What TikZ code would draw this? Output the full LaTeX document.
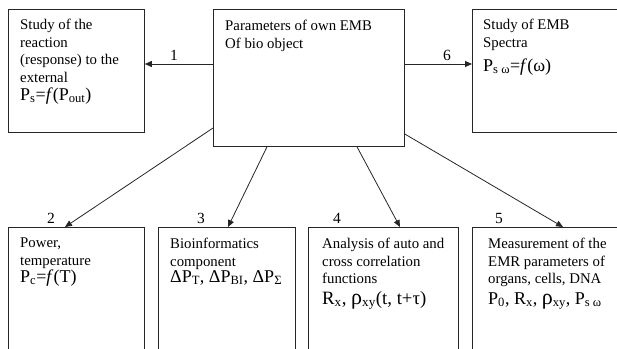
\documentclass[tikz,border=0pt]{standalone}
\usepackage{fontspec}
\setmainfont{Liberation Serif}
\usetikzlibrary{arrows.meta}
\newcommand\txtfont{\fontsize{14.8}{17.6}\selectfont}
\newcommand\numfont{\fontsize{15.5}{17}\selectfont}
\newcommand\frmfont{\fontsize{18}{20}\selectfont}
\newcommand\bigrho{{\fontsize{22}{22}\selectfont ρ}}
\tikzset{
  box/.style={draw=black!85, line width=0.8pt, rectangle, anchor=north west, inner sep=0pt},
  txt/.style={anchor=north west, inner sep=0pt, align=left, font=\txtfont},
  frm/.style={anchor=base west, inner sep=0pt, font=\frmfont},
  num/.style={inner sep=0pt, font=\numfont},
  arr/.style={draw=black!85, line width=0.8pt, -{Triangle[length=7pt,width=6pt]}}
}
\begin{document}
\begin{tikzpicture}[x=1pt,y=-1pt]
\useasboundingbox (0,0) rectangle (617,348);
\clip (0,0) rectangle (617,348);
% boxes
\node[box, minimum width=136pt, minimum height=123pt] (b1) at (8,9) {};
\node[box, minimum width=191pt, minimum height=137pt] (c) at (213,9) {};
\node[box, minimum width=170pt, minimum height=123pt] (b6) at (472,9) {};
\node[box, minimum width=136pt, minimum height=150pt] (d2) at (8,227) {};
\node[box, minimum width=137pt, minimum height=150pt] (d3) at (158,227) {};
\node[box, minimum width=150pt, minimum height=150pt] (d4) at (308,227) {};
\node[box, minimum width=170pt, minimum height=150pt] (d5) at (472,227) {};
% texts
\node[txt] (t1) at (20,19) {Study of the\\reaction\\(response) to the\\external};
\node[frm] (f1) at (20,100) {P\textsubscript{s}=\textit{f}(P\textsubscript{out})};
\node[txt] (tc) at (225,20) {Parameters of own EMB\\Of bio object};
\node[txt] (t6) at (483,19) {Study of EMB\\Spectra};
\node[frm] (f6) at (483,71) {P\textsubscript{s ω}=\textit{f}(ω)};
\node[txt] (t2) at (20,238) {Power,\\temperature};
\node[frm] (f2) at (20,282) {P\textsubscript{c}=\textit{f}(T)};
\node[txt] (t3) at (170,238) {Bioinformatics\\component};
\node[frm] (f3) at (170,282) {ΔP\textsubscript{T}, ΔP\textsubscript{BI}, ΔP\textsubscript{Σ}};
\node[txt] (t4) at (322,238) {Analysis of auto and\\cross correlation\\functions};
\node[frm, font=\fontsize{18.8}{20}\selectfont] (f4) at (322,304) {R\textsubscript{x}, \bigrho\textsubscript{xy}(t, t+τ)};
\node[txt] (t5) at (488,238) {Measurement of the\\EMR parameters of\\organs, cells, DNA};
\node[frm] (f5) at (488,304) {P\textsubscript{0}, R\textsubscript{x}, \bigrho\textsubscript{xy}, P\textsubscript{s ω}};
% connectors
\draw[arr] ([yshift=-55pt]c.north west) -- ([yshift=-55pt]b1.north east);
\draw[arr] ([yshift=-55pt]c.north east) -- ([yshift=-55pt]b6.north west);
\draw[arr] ([yshift=-119pt]c.north west) -- ([xshift=57pt]d2.north west);
\draw[arr] ([xshift=54pt]c.south west) -- ([xshift=70pt]d3.north west);
\draw[arr] ([xshift=144pt]c.south west) -- ([xshift=92pt]d4.north west);
\draw[arr] ([yshift=-125pt]c.north east) -- ([xshift=91pt]d5.north west);
% numbers
\node[num] (n1) at (174,55) {1};
\node[num] (n6) at (447,55) {6};
\node[num] (n2) at (51,218) {2};
\node[num] (n3) at (201,218) {3};
\node[num] (n4) at (337,218) {4};
\node[num] (n5) at (499,218) {5};
\end{tikzpicture}
\end{document}
